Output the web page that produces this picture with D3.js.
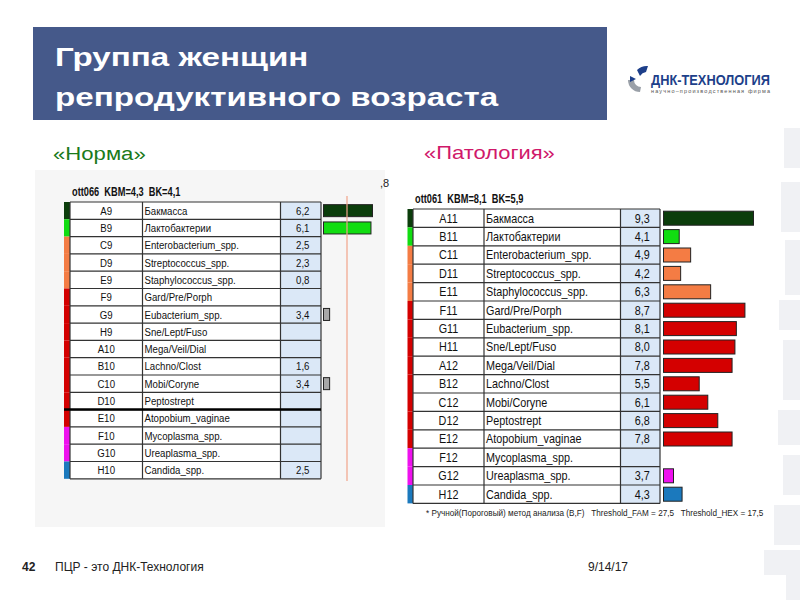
<!DOCTYPE html>
<html><head><meta charset="utf-8">
<script src="https://cdn.jsdelivr.net/npm/d3@7"></script>
<style>
html,body{margin:0;padding:0;background:#fff;}
svg{display:block;}
text{font-family:"Liberation Sans",Arial,sans-serif;}
</style></head>
<body>
<script>
// ---------- data ----------
const titleLines = ["Группа женщин", "репродуктивного возраста"];
const taxa = ["Бакмасса","Лактобактерии","Enterobacterium_spp.","Streptococcus_spp.","Staphylococcus_spp.",
  "Gard/Pre/Porph","Eubacterium_spp.","Sne/Lept/Fuso","Mega/Veil/Dial","Lachno/Clost","Mobi/Coryne",
  "Peptostrept","Atopobium_vaginae","Mycoplasma_spp.","Ureaplasma_spp.","Candida_spp."];
const groups = ["total","lacto","opp","opp","opp","anaer","anaer","anaer","anaer","anaer","anaer","anaer","anaer","myco","myco","candida"];
const normCodes = ["A9","B9","C9","D9","E9","F9","G9","H9","A10","B10","C10","D10","E10","F10","G10","H10"];
const pathCodes = ["A11","B11","C11","D11","E11","F11","G11","H11","A12","B12","C12","D12","E12","F12","G12","H12"];
const normValues = [6.2,6.1,2.5,2.3,0.8,null,3.4,null,null,1.6,3.4,null,null,null,null,2.5];
const pathValues = [9.3,4.1,4.9,4.2,6.3,8.7,8.1,8.0,7.8,5.5,6.1,6.8,7.8,null,3.7,4.3];
const normHeader = "ott066  KBM=4,3  BK=4,1";
const pathHeader = "ott061  KBM=8,1  BK=5,9";
const footnote = "* Ручной(Пороговый) метод анализа (B,F)   Threshold_FAM = 27,5   Threshold_HEX = 17,5";

// ---------- drawing ----------
const W = 800, H = 600;
const svg = d3.select("body").append("svg").attr("width", W).attr("height", H);

const groupColor = d3.scaleOrdinal()
  .domain(["total","lacto","opp","anaer","myco","candida"])
  .range(["#0b3d0b","#11dd11","#f47c44","#d40000","#ee11ee","#1b79bd"]);
const fmt = v => v == null ? "" : d3.format(".1f")(v).replace(".", ",");

// text with horizontal scaling (slide is horizontally stretched)
function stext(parent, x, y, fs, sx, txt, o = {}) {
  return parent.append("text")
    .attr("transform", `translate(${x},${y}) scale(${sx},1)`)
    .attr("font-size", fs).attr("fill", o.fill || "#111")
    .attr("font-weight", o.bold ? "bold" : null)
    .attr("text-anchor", o.anchor || null)
    .attr("xml:space", "preserve")
    .text(txt);
}

// decorative faint squares on the right edge
const deco = [[784,128,16,40],[781,182,19,50],[785,240,15,55],[779,300,21,30],[783,340,17,60],[778,410,22,35],[783,455,17,40],[774,505,26,40],[764,550,36,25],[786,565,14,35]];
svg.selectAll("rect.deco").data(deco).join("rect").attr("class","deco")
  .attr("x",d=>d[0]).attr("y",d=>d[1]).attr("width",d=>d[2]).attr("height",d=>d[3])
  .attr("fill","#f0f1f4");

// title box
svg.append("rect").attr("x",33).attr("y",27).attr("width",574).attr("height",93).attr("fill","#45598a");
titleLines.forEach((d,i)=> stext(svg, 55, 66+i*40, 25.5, 1.3, d, {fill:"#fff", bold:true}));

// logo
const logo = svg.append("g");
logo.append("path").attr("d","M637,70 A14,14 0 0 1 648,66 L646,72 A9,9 0 0 0 640,76 Z").attr("fill","#1d3f8a");
logo.append("path").attr("d","M628,80 A12,12 0 0 0 640,92 L641,87 A7,7 0 0 1 634,80 Z").attr("fill","#9aa0a8");
logo.append("path").attr("d","M630,76 L636,79 L630,82 Z").attr("fill","#1d3f8a");
logo.append("text").attr("x",651).attr("y",85).attr("font-weight","bold")
  .attr("font-size",15).attr("fill","#1d3f8a").attr("textLength",119).attr("lengthAdjust","spacingAndGlyphs").text("ДНК-ТЕХНОЛОГИЯ");
logo.append("text").attr("x",651).attr("y",93)
  .attr("font-size",5.5).attr("fill","#555").attr("textLength",119).attr("lengthAdjust","spacing").text("научно–производственная фирма");

// subtitles
stext(svg, 53, 160, 18, 1.23, "«Норма»", {fill:"#1a7a1a"});
stext(svg, 424, 159, 18, 1.22, "«Патология»", {fill:"#d0186a"});

// left panel background
svg.append("rect").attr("x",35).attr("y",170).attr("width",350).attr("height",357).attr("fill","#f6f6f6");
stext(svg, 380, 187, 11, 1, ",8", {fill:"#222"});

function drawTable(opt){
  const g = svg.append("g");
  const n = taxa.length;
  const y = d3.scaleBand().domain(d3.range(n)).range([opt.top, opt.top + opt.rowH*n]).padding(0);
  const c = opt.cols; // [strip, code, name, value, end]
  const rows = taxa.map((t,i)=>({i, taxon:t, group:groups[i], code:opt.codes[i], value:opt.values[i]}));
  stext(g, opt.headerX, opt.headerY, opt.hfs, opt.hsx, opt.header, {bold:true});
  const r = g.selectAll("g.row").data(rows).join("g").attr("class","row");
  r.append("rect").attr("x",c[0]).attr("y",d=>y(d.i)).attr("width",c[1]-c[0]).attr("height",y.bandwidth())
    .attr("fill",d=>groupColor(d.group));
  r.append("rect").attr("x",c[1]).attr("y",d=>y(d.i)).attr("width",c[3]-c[1]).attr("height",y.bandwidth()).attr("fill","#fff");
  r.append("rect").attr("x",c[3]).attr("y",d=>y(d.i)).attr("width",c[4]-c[3]).attr("height",y.bandwidth()).attr("fill","#dbe8f7");
  g.selectAll("line.h").data(d3.range(n+1)).join("line").attr("class","h")
    .attr("x1",c[1]).attr("x2",c[4]).attr("y1",i=>opt.top+i*opt.rowH).attr("y2",i=>opt.top+i*opt.rowH)
    .attr("stroke","#333").attr("stroke-width",1.2);
  g.selectAll("line.v").data([c[1],c[2],c[3],c[4]]).join("line").attr("class","v")
    .attr("x1",d=>d).attr("x2",d=>d).attr("y1",opt.top).attr("y2",opt.top+opt.rowH*n)
    .attr("stroke","#333").attr("stroke-width",1.2);
  if (opt.thickAfter != null){
    const yy = opt.top + (opt.thickAfter+1)*opt.rowH;
    g.append("line").attr("x1",c[0]).attr("x2",c[4]).attr("y1",yy).attr("y2",yy).attr("stroke","#000").attr("stroke-width",2.5);
  }
  rows.forEach(d=>{
    const ty = y(d.i) + y.bandwidth()/2 + opt.fs*0.36;
    const rg = g.append("g");
    stext(rg, (c[1]+c[2])/2, ty, opt.fs, opt.sx, d.code, {anchor:"middle"});
    stext(rg, c[2]+2, ty, opt.fs, opt.sx, d.taxon);
    stext(rg, (c[3]+c[4])/2+2, ty, opt.fs, opt.sx, fmt(d.value), {anchor:"middle"});
  });
  const x = d3.scaleLinear().domain(opt.domain).range([0, opt.barW]);
  const bh = opt.barH;
  g.selectAll("rect.bar").data(rows.filter(d=>d.value!=null && d.value>opt.domain[0])).join("rect").attr("class","bar")
    .attr("x",opt.barX).attr("y",d=>y(d.i)+(y.bandwidth()-bh)/2)
    .attr("width",d=>Math.max(3,x(d.value))).attr("height",bh)
    .attr("fill",d=>opt.grayGroup && d.group===opt.grayGroup ? "#a8a8a8" : groupColor(d.group))
    .attr("stroke","#222").attr("stroke-width",1);
  return {y, x};
}

drawTable({
  codes: normCodes, values: normValues, header: normHeader,
  top: 202, rowH: 17.3, cols: [64,70,142.5,280.5,321], fs: 11.5, sx: 0.84, hfs: 12.5, hsx: 0.74,
  headerX: 72, headerY: 196, barX: 323.5, barW: 49, barH: 12, domain: [3, 6.2],
  thickAfter: 11, grayGroup: "anaer"
});
svg.append("line").attr("x1",347).attr("x2",347).attr("y1",196).attr("y2",481).attr("stroke","#f2a48a").attr("stroke-width",1.2);

drawTable({
  codes: pathCodes, values: pathValues, header: pathHeader,
  top: 209, rowH: 18.4, cols: [407.5,413,484,620.5,660], fs: 12, sx: 0.9, hfs: 12.5, hsx: 0.74,
  headerX: 415, headerY: 203, barX: 663.5, barW: 90, barH: 14, domain: [3, 9.3],
  thickAfter: null
});
stext(svg, 426, 516, 9.5, 0.86, footnote, {fill:"#222"});

// footer
svg.append("text").attr("x",22).attr("y",571).attr("font-weight","bold").attr("font-size",12).attr("fill","#222").text("42");
stext(svg, 55, 571, 12, 1.0, "ПЦР - это ДНК-Технология", {fill:"#222"});
stext(svg, 588, 571, 12, 1.0, "9/14/17", {fill:"#222"});
</script>
</body></html>
